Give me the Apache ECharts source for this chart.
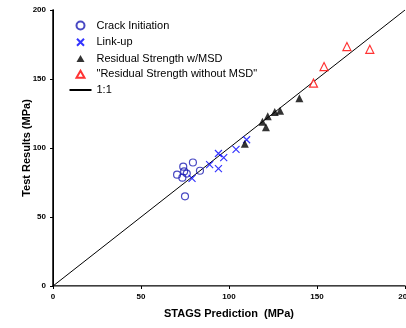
<!DOCTYPE html>
<html>
<head>
<meta charset="utf-8">
<script src="https://cdn.jsdelivr.net/npm/echarts@6/dist/echarts.min.js"></script>
<style>
  html, body { margin: 0; padding: 0; background: #fff; }
  #chart { width: 406px; height: 328px; }
</style>
</head>
<body>
<div id="chart"></div>
<script>
// values: [STAGS prediction, test result] in MPa
const crackInitiation = [
  [70.5, 80.7], [74, 86.5], [74.5, 83], [73.5, 78.5],
  [76, 81.5], [79.5, 89.5], [83.5, 83.5], [75, 65]
];
const linkUp = [
  [79, 78], [89, 88], [94, 96], [97, 93], [94, 85], [104, 99], [110, 106]
];
const residualWithMsd = [
  [109, 103], [119, 119], [121, 115], [122, 123], [126, 126], [129, 127], [140, 136]
];
const residualWithoutMsd = [
  [148, 147], [154, 159], [167, 173.5], [180, 171.5]
];
const oneToOne = [[0, 0], [200, 200]];
const axisTicks = { min: 0, max: 200, interval: 50 };

const chart = echarts.init(document.getElementById("chart"), null, { renderer: "canvas" });

const font = "Liberation Sans, Arial, sans-serif";
const crossPath = "path://M0,0L10,10M10,0L0,10";
// legend icons padded to the 22x8 legend box so they are not stretched
const legendCross = "path://M0,0L0,0M22,8L22,8M7.5,0.5L14.5,7.5M14.5,0.5L7.5,7.5";
const legendTriangle = "path://M0,0L0,0M22,8L22,8M11,0.5L15,7.5L7,7.5Z";

const option = {
  animation: false,
  backgroundColor: "#fff",
  textStyle: { fontFamily: font },
  grid: { left: 53, right: 1, top: 10, bottom: 42, outerBoundsMode: "none" },
  legend: {
    orient: "vertical",
    left: 62,
    top: 14,
    itemWidth: 22,
    itemHeight: 8,
    itemGap: 3.75,
    textStyle: { fontFamily: font, fontSize: 11, color: "#000", lineHeight: 12 },
    data: [
      { name: "Crack Initiation", icon: "circle" },
      { name: "Link-up", icon: legendCross },
      { name: "Residual Strength w/MSD", icon: legendTriangle },
      { name: "\"Residual Strength without MSD\"", icon: legendTriangle },
      { name: "1:1", itemStyle: { opacity: 0 } }
    ]
  },
  xAxis: [
    {
      type: "value",
      min: axisTicks.min,
      max: axisTicks.max,
      interval: axisTicks.interval,
      name: "STAGS Prediction  (MPa)",
      nameLocation: "middle",
      nameGap: 22,
      nameTextStyle: { fontFamily: font, fontSize: 11, fontWeight: "bold", color: "#000" },
      axisLine: { lineStyle: { color: "#000", width: 1.5 } },
      axisTick: { inside: false, length: 3, lineStyle: { color: "#000" } },
      axisLabel: { fontFamily: font, fontSize: 8, fontWeight: "bold", color: "#000", margin: 7 },
      splitLine: { show: false }
    },
    {
      type: "value",
      position: "top",
      min: axisTicks.min,
      max: axisTicks.max,
      axisLine: { show: true, lineStyle: { color: "#888", width: 1 } },
      axisTick: { show: false },
      axisLabel: { show: false },
      splitLine: { show: false }
    }
  ],
  yAxis: [
    {
      type: "value",
      min: axisTicks.min,
      max: axisTicks.max,
      interval: axisTicks.interval,
      name: "Test Results (MPa)",
      nameLocation: "middle",
      nameGap: 21,
      nameMoveOverlap: false,
      nameTextStyle: { fontFamily: font, fontSize: 11, fontWeight: "bold", color: "#000" },
      axisLine: { show: true, lineStyle: { color: "#000", width: 1.5 } },
      axisTick: { show: true, inside: false, length: 3, lineStyle: { color: "#000" } },
      axisLabel: { fontFamily: font, fontSize: 8, fontWeight: "bold", color: "#000", margin: 7 },
      splitLine: { show: false }
    },
    {
      type: "value",
      position: "right",
      min: axisTicks.min,
      max: axisTicks.max,
      axisLine: { show: true, lineStyle: { color: "#000", width: 1 } },
      axisTick: { show: false },
      axisLabel: { show: false },
      splitLine: { show: false }
    }
  ],
  series: [
    {
      name: "1:1",
      type: "line",
      data: oneToOne,
      symbol: "none",
      lineStyle: { color: "#000", width: 1 },
      itemStyle: { color: "#000" },
      z: 1
    },
    {
      name: "Crack Initiation",
      type: "scatter",
      data: crackInitiation,
      symbol: "circle",
      symbolSize: 7,
      itemStyle: { color: "none", borderColor: "#1c1cb4", borderWidth: 1.2 }
    },
    {
      name: "Link-up",
      type: "scatter",
      data: linkUp,
      symbol: crossPath,
      symbolSize: 7,
      itemStyle: { color: "none", borderColor: "#0000ff", borderWidth: 1.2 }
    },
    {
      name: "Residual Strength w/MSD",
      type: "scatter",
      data: residualWithMsd,
      symbol: "triangle",
      symbolSize: 8,
      itemStyle: { color: "#000" }
    },
    {
      name: "\"Residual Strength without MSD\"",
      type: "scatter",
      data: residualWithoutMsd,
      symbol: "triangle",
      symbolSize: 8,
      itemStyle: { color: "#fff", borderColor: "#ff0000", borderWidth: 1.2 }
    }
  ]
};

chart.setOption(option);
</script>
</body>
</html>
